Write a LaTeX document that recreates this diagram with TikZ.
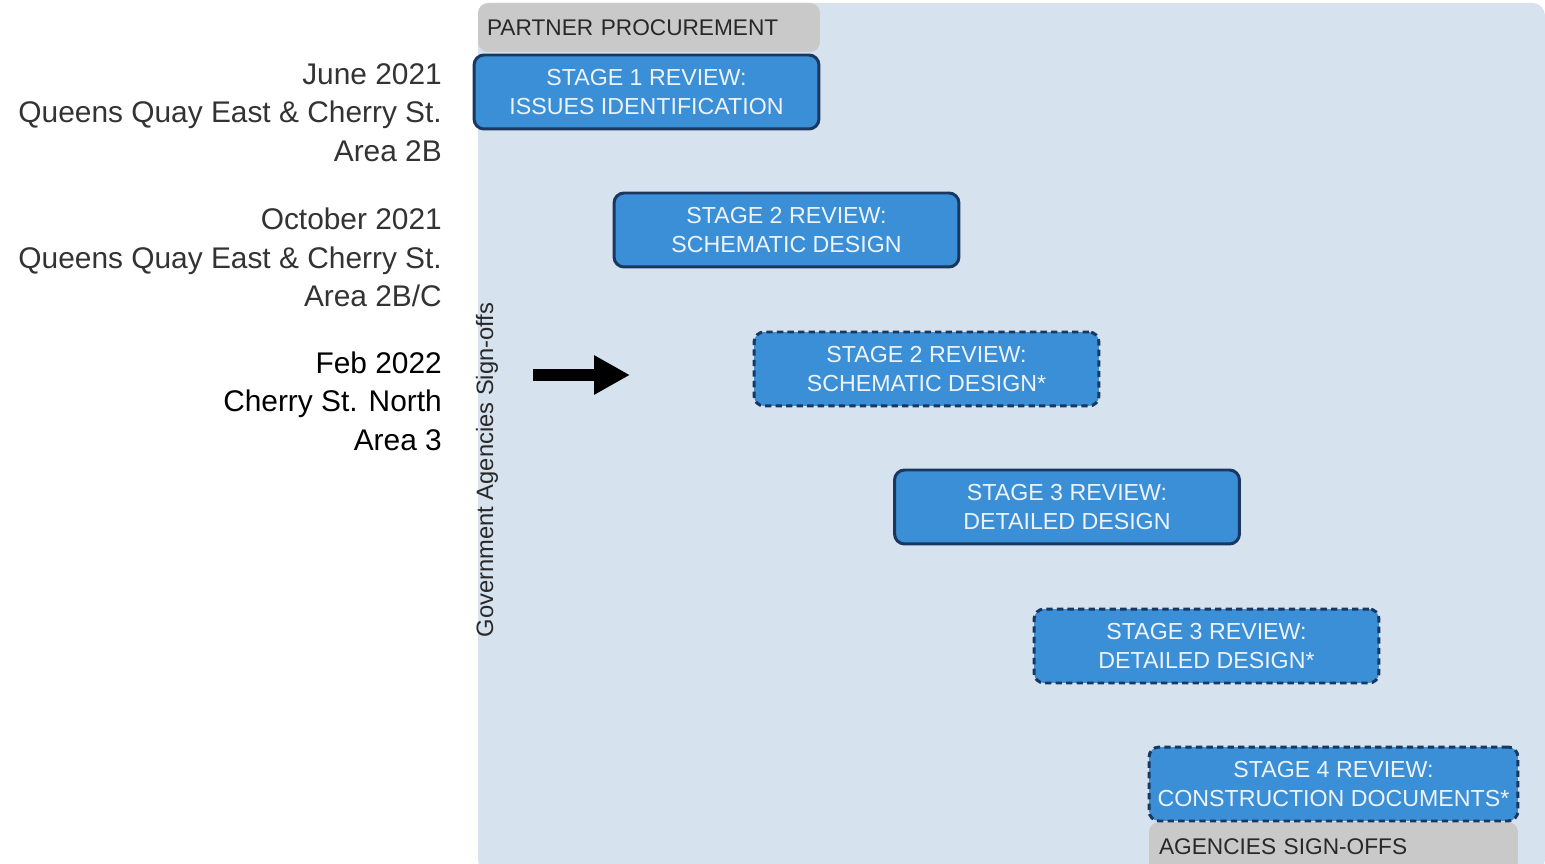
\documentclass[tikz,border=0pt]{standalone}
\usepackage{fontspec}
\setmainfont{Liberation Sans}
\usepackage{xcolor}
\usepackage{tikz}
\usetikzlibrary{arrows.meta, positioning}
\definecolor{panelblue}{RGB}{214,227,239}
\definecolor{stageblue}{RGB}{58,143,214}
\definecolor{stagenavy}{RGB}{26,55,95}
\definecolor{signgrey}{RGB}{201,201,201}
\definecolor{signtext}{RGB}{40,40,40}
\definecolor{stagetext}{RGB}{238,243,250}

\begin{document}
\begin{tikzpicture}[x=0.02cm, y=-0.02cm,
    stagebox/.style={rectangle, rounded corners=0.2cm, draw=stagenavy, line width=1.7pt,
      fill=stageblue, text=stagetext, minimum width=6.9cm, minimum height=1.48cm,
      align=center, font=\fontsize{13.2}{17}\selectfont},
    stageplan/.style={stagebox, dash pattern=on 3.6pt off 2.4pt},
    signbox/.style={rectangle, rounded corners=0.2cm, fill=signgrey, text=signtext,
      align=left, font=\fontsize{12.9}{15}\selectfont},
    datelabel/.style={anchor=east, align=right, font=\fontsize{17}{22}\selectfont}]
  \useasboundingbox (0,0) rectangle (1545,864);
  % review panel
  \fill[panelblue, rounded corners=0.25cm] (478,3) rectangle (1545,872);

  % sign-off bars
  \node[signbox, minimum width=6.84cm, minimum height=0.98cm, inner xsep=0.18cm,
        text width=6.48cm] (procure) at (649,27.5) {PARTNER PROCUREMENT};
  \node[signbox, minimum width=7.38cm, minimum height=1.0cm, inner xsep=0.2cm,
        text width=6.98cm] (signoffs) at (1333.5,847) {AGENCIES SIGN-OFFS};

  % stages
  \node[stagebox] (stageone) at (646.5,92) {STAGE 1 REVIEW:\\ISSUES IDENTIFICATION};
  \node[stagebox] (stagetwo) at (786.5,230) {STAGE 2 REVIEW:\\SCHEMATIC DESIGN};
  \node[stageplan] (stagetwob) at (926.5,369) {STAGE 2 REVIEW:\\SCHEMATIC DESIGN*};
  \node[stagebox] (stagethree) at (1067,507) {STAGE 3 REVIEW:\\DETAILED DESIGN};
  \node[stageplan] (stagethreeb) at (1206.5,646) {STAGE 3 REVIEW:\\DETAILED DESIGN*};
  \node[stageplan, minimum width=7.38cm] (stagefour) at (1333.5,784)
        {STAGE 4 REVIEW:\\CONSTRUCTION DOCUMENTS*};

  % side label
  \node[rotate=90, font=\fontsize{13.5}{16}\selectfont, text=signtext] (govlabel)
        at (487,470) {Government Agencies Sign-offs};

  % dates
  \node[datelabel, text=black!80] (june) at (448,112.5)
        {June 2021\\Queens Quay East \& Cherry St.\\Area 2B};
  \node[datelabel, text=black!80] (october) at (448,257.5)
        {October 2021\\Queens Quay East \& Cherry St.\\Area 2B/C};
  \node[datelabel, text=black] (feb) at (448,401)
        {Feb 2022\\Cherry St. North\\Area 3};

  % current marker
  \coordinate (nowtail) at (533,375);
  \coordinate (nowhead) at (630,375);
  \draw[line width=0.24cm, -{Triangle[length=0.72cm, width=0.74cm]}] (nowtail) -- (nowhead);
\end{tikzpicture}
\end{document}
